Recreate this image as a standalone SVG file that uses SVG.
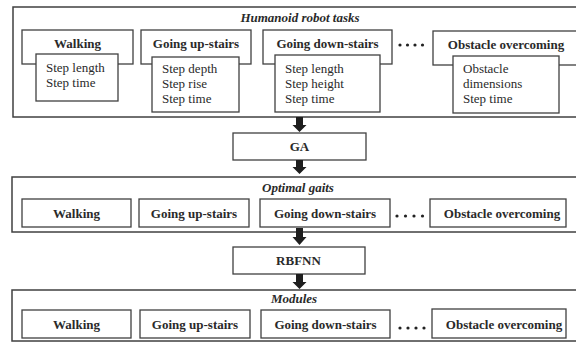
<svg xmlns="http://www.w3.org/2000/svg" width="576" height="342" viewBox="0 0 576 342">
  <defs>
    <style>
      .frame { fill: none; stroke: #404040; stroke-width: 1.5; }
      .box { fill: #ffffff; stroke: #404040; stroke-width: 1.3; }
      text { font-family: 'Liberation Serif', 'Times New Roman', Times, 'DejaVu Serif', serif; fill: #2a2a2a; }
      .lbl { font-size: 13px; font-weight: bold; text-anchor: middle; }
      .item { font-size: 13px; }
      .ttl { font-size: 13px; font-weight: bold; font-style: italic; text-anchor: middle; }
      .dot { fill: #222222; }
      .arrow { fill: #1e1e1e; }
    </style>
  </defs>
  <rect x="0" y="0" width="576" height="342" fill="#ffffff"/>

  <!-- Stage 1: task definitions -->
  <g id="tasks">
    <rect class="frame" x="13" y="7" width="570" height="110"/>
    <text class="ttl" x="300" y="22">Humanoid robot tasks</text>
    <g id="task-walking">
      <rect class="box" x="22" y="30" width="111" height="34"/>
      <text class="lbl" x="77.5" y="48">Walking</text>
      <rect class="box" x="36" y="54" width="82" height="47"/>
      <text class="item" x="46" y="72">Step length</text>
      <text class="item" x="46" y="87">Step time</text>
    </g>
    <g id="task-upstairs">
      <rect class="box" x="141" y="30" width="110" height="34"/>
      <text class="lbl" x="196" y="48">Going up-stairs</text>
      <rect class="box" x="152" y="57" width="87" height="55"/>
      <text class="item" x="162" y="73">Step depth</text>
      <text class="item" x="162" y="88">Step rise</text>
      <text class="item" x="162" y="103">Step time</text>
    </g>
    <g id="task-downstairs">
      <rect class="box" x="263" y="30" width="129" height="34"/>
      <text class="lbl" x="327.5" y="48">Going down-stairs</text>
      <rect class="box" x="275" y="55" width="105" height="57"/>
      <text class="item" x="285" y="73">Step length</text>
      <text class="item" x="285" y="88">Step height</text>
      <text class="item" x="285" y="103">Step time</text>
    </g>
    <g id="task-dots">
      <circle class="dot" cx="400" cy="45" r="1.6"/>
      <circle class="dot" cx="407.5" cy="45" r="1.6"/>
      <circle class="dot" cx="415" cy="45" r="1.6"/>
      <circle class="dot" cx="422.5" cy="45" r="1.6"/>
    </g>
    <g id="task-obstacle">
      <rect class="box" x="433" y="31" width="150" height="34"/>
      <text class="lbl" x="506" y="49">Obstacle overcoming</text>
      <rect class="box" x="453" y="56" width="106" height="57"/>
      <text class="item" x="463" y="73">Obstacle</text>
      <text class="item" x="463" y="88">dimensions</text>
      <text class="item" x="463" y="103">Step time</text>
    </g>
  </g>

  <!-- Optimiser -->
  <g id="ga">
    <rect class="box" x="233" y="133" width="133" height="27"/>
    <text class="lbl" x="299.5" y="151">GA</text>
  </g>

  <!-- Stage 2: optimal gaits -->
  <g id="gaits">
    <rect class="frame" x="12" y="177" width="571" height="55"/>
    <text class="ttl" x="298" y="192">Optimal gaits</text>
    <g id="gait-walking">
      <rect class="box" x="22" y="199" width="109" height="28"/>
      <text class="lbl" x="76.5" y="217.5">Walking</text>
    </g>
    <g id="gait-upstairs">
      <rect class="box" x="139" y="199" width="110" height="28"/>
      <text class="lbl" x="194" y="217.5">Going up-stairs</text>
    </g>
    <g id="gait-downstairs">
      <rect class="box" x="260" y="199" width="130" height="28"/>
      <text class="lbl" x="325" y="217.5">Going down-stairs</text>
    </g>
    <g id="gait-dots">
      <circle class="dot" cx="397" cy="216" r="1.6"/>
      <circle class="dot" cx="405.5" cy="216" r="1.6"/>
      <circle class="dot" cx="414" cy="216" r="1.6"/>
      <circle class="dot" cx="422.5" cy="216" r="1.6"/>
    </g>
    <g id="gait-obstacle">
      <rect class="box" x="430" y="199" width="136" height="28"/>
      <text class="lbl" x="502" y="217.5">Obstacle overcoming</text>
    </g>
  </g>

  <!-- Network -->
  <g id="rbfnn">
    <rect class="box" x="233" y="247" width="132" height="27"/>
    <text class="lbl" x="298.5" y="265">RBFNN</text>
  </g>

  <!-- Stage 3: modules -->
  <g id="modules">
    <rect class="frame" x="12" y="290" width="571" height="51"/>
    <text class="ttl" x="294" y="303">Modules</text>
    <g id="mod-walking">
      <rect class="box" x="22" y="310" width="109" height="28"/>
      <text class="lbl" x="76.5" y="328.5">Walking</text>
    </g>
    <g id="mod-upstairs">
      <rect class="box" x="140" y="310" width="110" height="28"/>
      <text class="lbl" x="195" y="328.5">Going up-stairs</text>
    </g>
    <g id="mod-downstairs">
      <rect class="box" x="261" y="310" width="129" height="28"/>
      <text class="lbl" x="325.5" y="328.5">Going down-stairs</text>
    </g>
    <g id="mod-dots">
      <circle class="dot" cx="400" cy="328" r="1.6"/>
      <circle class="dot" cx="408" cy="328" r="1.6"/>
      <circle class="dot" cx="416" cy="328" r="1.6"/>
      <circle class="dot" cx="424" cy="328" r="1.6"/>
    </g>
    <g id="mod-obstacle">
      <rect class="box" x="432" y="309" width="134" height="29"/>
      <text class="lbl" x="504" y="328.5">Obstacle overcoming</text>
    </g>
  </g>

  <!-- Block arrows between stages -->
  <g id="connectors">
    <polygon class="arrow" points="296,117 303,117 303,125 306.5,125 299.5,132 292.5,125 296,125"/>
    <polygon class="arrow" points="296,160 303,160 303,167 306.5,167 299.5,174 292.5,167 296,167"/>
    <polygon class="arrow" points="296,228 303,228 303,237 306.5,237 299.5,245 292.5,237 296,237"/>
    <polygon class="arrow" points="296,274 303,274 303,282 306.5,282 299.5,289 292.5,282 296,282"/>
  </g>
</svg>
